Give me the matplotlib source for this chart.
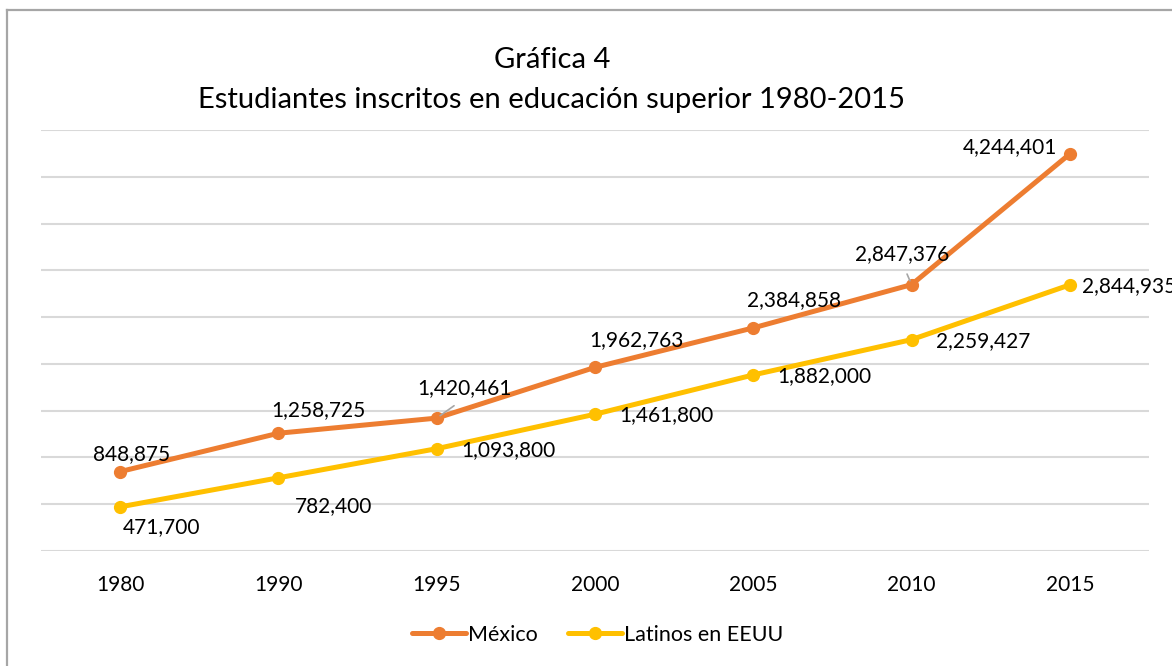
import matplotlib
matplotlib.use("Agg")
import matplotlib.pyplot as plt
from matplotlib.lines import Line2D

plt.rcParams["font.family"] = ["Lato", "DejaVu Sans"]

# data
years = ["1980", "1990", "1995", "2000", "2005", "2010", "2015"]
mexico = [848875, 1258725, 1420461, 1962763, 2384858, 2847376, 4244401]
latinos = [471700, 782400, 1093800, 1461800, 1882000, 2259427, 2844935]

ORANGE = "#ED7D31"
GOLD = "#FFC000"

# label offsets in pixels (dx, dy)
mex_off = [(11, 17), (40, 23), (28, 30), (41, 27), (41, 28), (-9, 31), (-60, 7)]
lat_off = [(41, -20), (55, -28), (72, -1), (71, -1), (71, -1), (72, -1), (12, -1)]
mex_leader = [False, False, True, False, False, True, False]

fig = plt.figure(figsize=(11.72, 6.66), dpi=100)
ax = fig.add_axes([41 / 1172, 1 - 551 / 666, 1108 / 1172, 421 / 666])

x = list(range(len(years)))
ax.plot(x, mexico, color=ORANGE, lw=3.6, marker="o", ms=8.5, label="México",
        solid_capstyle="round", zorder=3)
ax.plot(x, latinos, color=GOLD, lw=3.6, marker="o", ms=8.5, label="Latinos en EEUU",
        solid_capstyle="round", zorder=3)

ax.set_xlim(-0.5, len(years) - 0.5)
ax.set_ylim(0, 4500000)
ax.set_yticks(range(0, 4500001, 500000))
ax.set_xticks(x)
ax.set_xticklabels(years, fontsize=15)
ax.tick_params(axis="y", left=False, labelleft=False)
ax.tick_params(axis="x", length=0, pad=17)
ax.grid(axis="y", color="#D9D9D9", lw=1.5)
ax.set_axisbelow(True)
for s in ax.spines.values():
    s.set_visible(False)

for i, v in enumerate(mexico):
    dx, dy = mex_off[i]
    kw = {}
    if mex_leader[i]:
        kw["arrowprops"] = dict(arrowstyle="-", color="#A6A6A6", lw=1.2,
                                relpos=(0.5, 0), shrinkA=6, shrinkB=3)
    ax.annotate(f"{v:,}", (i, v), xytext=(dx, dy), textcoords="offset pixels",
                ha="center", va="center", fontsize=15, color="black",
                annotation_clip=False, **kw)

for i, v in enumerate(latinos):
    dx, dy = lat_off[i]
    ha = "left" if i == len(latinos) - 1 else "center"
    ax.annotate(f"{v:,}", (i, v), xytext=(dx, dy), textcoords="offset pixels",
                ha=ha, va="center", fontsize=15, color="black",
                annotation_clip=False)

fig.text(552 / 1172, 1 - 60 / 666, "Gráfica 4", ha="center", va="center", fontsize=21)
fig.text(552 / 1172, 1 - 100 / 666, "Estudiantes inscritos en educación superior 1980-2015",
         ha="center", va="center", fontsize=21)

fig.legend(loc="center", bbox_to_anchor=(598 / 1172, 1 - 635 / 666), ncol=2,
           frameon=False, fontsize=15.5, handlelength=2.5, handletextpad=0.1,
           columnspacing=1.4)

# chart area border (top and left visible)
fig.add_artist(Line2D([7 / 1172, 7 / 1172], [0, 1 - 10 / 666], color="#A6A6A6", lw=1.6))
fig.add_artist(Line2D([7 / 1172, 1], [1 - 10 / 666, 1 - 10 / 666], color="#A6A6A6", lw=1.6))

fig.savefig("out.png", dpi=100)
